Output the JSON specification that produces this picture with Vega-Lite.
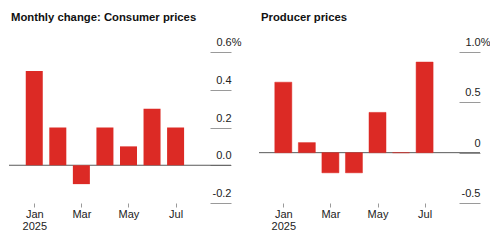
{
  "$schema": "https://vega.github.io/schema/vega-lite/v6.json",
  "background": "white",
  "padding": {"left": 8, "top": 12, "right": 0, "bottom": 0},
  "spacing": 17,
  "datasets": {
    "cpi": [
      {"month": 1, "change": 0.5},
      {"month": 2, "change": 0.2},
      {"month": 3, "change": -0.1},
      {"month": 4, "change": 0.2},
      {"month": 5, "change": 0.1},
      {"month": 6, "change": 0.3},
      {"month": 7, "change": 0.2}
    ],
    "ppi": [
      {"month": 1, "change": 0.7},
      {"month": 2, "change": 0.1},
      {"month": 3, "change": -0.2},
      {"month": 4, "change": -0.2},
      {"month": 5, "change": 0.4},
      {"month": 6, "change": 0.0},
      {"month": 7, "change": 0.9}
    ],
    "baseline": [{"change": 0}]
  },
  "config": {
    "view": {"stroke": null},
    "font": "Liberation Sans",
    "title": {"anchor": "start", "frame": "group", "fontSize": 11.3, "fontWeight": "bold", "color": "#111111", "offset": 13, "dx": 2},
    "axis": {
      "domain": false,
      "grid": false,
      "ticks": true,
      "tickColor": "#9a9a9a",
      "tickWidth": 1,
      "labelColor": "#222222",
      "labelFont": "Liberation Sans",
      "labelFontSize": 11,
      "labelFlush": false,
      "labelOverlap": false,
      "labelBound": false,
      "title": null
    }
  },
  "hconcat": [
    {
      "title": "Monthly change: Consumer prices",
      "width": 222,
      "height": 151,
      "encoding": {
        "y": {
          "field": "change",
          "type": "quantitative",
          "scale": {"domain": [-0.2, 0.6], "nice": false},
          "axis": {
            "orient": "right",
            "values": [-0.2, 0, 0.2, 0.4, 0.6],
            "offset": -21,
            "tickSize": 21,
            "labelAlign": "right",
            "labelBaseline": "alphabetic",
            "labelOffset": -6.5,
            "labelOverlap": false,
            "labelPadding": {"condition": {"test": "datum.value == 0.6", "value": 10}, "value": 0},
            "labelExpr": "datum.value == 0.6 ? '0.6%' : datum.value == 0.4 ? '0.4' : datum.value == 0.2 ? '0.2' : datum.value == 0 ? '0.0' : '-0.2'"
          }
        }
      },
      "layer": [
        {
          "data": {"name": "baseline"},
          "mark": {"type": "rule", "color": "#5a5a5a", "strokeWidth": 1},
          "encoding": {}
        },
        {
          "data": {"name": "cpi"},
          "mark": {"type": "bar", "size": 17, "color": "#dc2a25"},
          "encoding": {
            "x": {
              "field": "month",
              "type": "quantitative",
              "scale": {"domain": [0.14, 9.14], "nice": false, "zero": false},
              "axis": {
                "values": [1, 3, 5, 7],
                "tickSize": 4,
                "labelPadding": 1,
                "labelLineHeight": 12,
                "labelOverlap": false,
                "labelExpr": "datum.value == 1 ? ['Jan', '2025'] : datum.value == 3 ? 'Mar' : datum.value == 5 ? 'May' : 'Jul'"
              }
            }
          }
        }
      ]
    },
    {
      "title": "Producer prices",
      "width": 221,
      "height": 151,
      "encoding": {
        "y": {
          "field": "change",
          "type": "quantitative",
          "scale": {"domain": [-0.5, 1.0], "nice": false},
          "axis": {
            "orient": "right",
            "values": [-0.5, 0, 0.5, 1.0],
            "offset": -21,
            "tickSize": 21,
            "labelAlign": "right",
            "labelBaseline": "alphabetic",
            "labelOffset": -6.5,
            "labelOverlap": false,
            "labelPadding": {"condition": {"test": "datum.value == 1", "value": 10}, "value": 0},
            "labelExpr": "datum.value == 1 ? '1.0%' : datum.value == 0.5 ? '0.5' : datum.value == 0 ? '0' : '-0.5'"
          }
        }
      },
      "layer": [
        {
          "data": {"name": "baseline"},
          "mark": {"type": "rule", "color": "#5a5a5a", "strokeWidth": 1},
          "encoding": {}
        },
        {
          "data": {"name": "ppi"},
          "mark": {"type": "bar", "size": 17, "color": "#dc2a25", "stroke": "#dc2a25", "strokeWidth": 0.5},
          "encoding": {
            "x": {
              "field": "month",
              "type": "quantitative",
              "scale": {"domain": [0.18, 9.14], "nice": false, "zero": false},
              "axis": {
                "values": [1, 3, 5, 7],
                "tickSize": 4,
                "labelPadding": 1,
                "labelLineHeight": 12,
                "labelOverlap": false,
                "labelExpr": "datum.value == 1 ? ['Jan', '2025'] : datum.value == 3 ? 'Mar' : datum.value == 5 ? 'May' : 'Jul'"
              }
            }
          }
        }
      ]
    }
  ]
}
